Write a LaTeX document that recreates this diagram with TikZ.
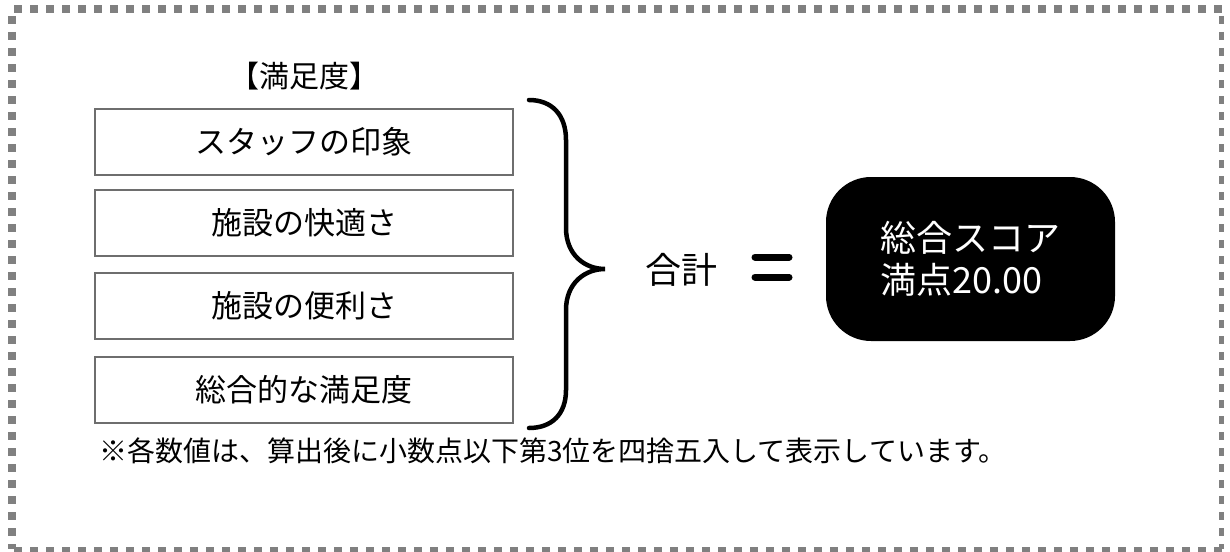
\documentclass[tikz,border=0pt]{standalone}
\usepackage{fontspec}
\setmainfont{Noto Sans CJK JP}
\definecolor{dotgray}{HTML}{808080}
\definecolor{boxgray}{HTML}{6E6E6E}
\tikzset{
  itembox/.style={draw=boxgray, line width=2pt, minimum width=418pt, minimum height=66pt,
    inner sep=0pt, font=\fontsize{31}{36}\selectfont},
  bordline/.style={draw=dotgray, dash pattern=on 8pt off 8pt},
  bracestroke/.style={line width=4.5pt, line cap=round},
  eqbar/.style={line width=7pt, line cap=round},
}
\begin{document}
\begin{tikzpicture}[x=1pt,y=-1pt]
\useasboundingbox (0,0) rectangle (1230,551);
% dotted frame
\draw[bordline, line width=8pt, dash phase=-2pt] (12,9) -- (1222,9);
\draw[bordline, line width=8pt, dash phase=-7pt] (12,9) -- (12,549);
\draw[bordline, line width=5pt, dash phase=-7pt] (1221,9) -- (1221,549);
\draw[bordline, line width=6pt, dash phase=-2pt] (12,550) -- (1222,550);

% title
\node[font=\fontsize{30}{34}\selectfont] (title) at (304,76) {【満足度】};

% item boxes
\node[itembox] (b1) at (304,141.5) {スタッフの印象};
\node[itembox] (b2) at (304,223) {施設の快適さ};
\node[itembox] (b3) at (304,305.5) {施設の便利さ};
\node[itembox] (b4) at (304,390) {総合的な満足度};

% brace
\coordinate (btop) at (529,100);
\coordinate (btip) at (605,269);
\coordinate (bbot) at (529,428);
\draw[bracestroke] (btop) .. controls (552,100) and (566,115) .. (566,140)
  -- (566,228) .. controls (566,255) and (585,269) .. (btip)
  .. controls (585,269) and (566,283) .. (566,310)
  -- (566,390) .. controls (566,414) and (552,428) .. (bbot);

% sum label
\node[font=\fontsize{36}{40}\selectfont] (sum) at (681,270) {合計};

% equals sign
\coordinate (e1a) at (755,257); \coordinate (e1b) at (789,257);
\coordinate (e2a) at (755,277); \coordinate (e2b) at (789,277);
\draw[eqbar] (e1a) -- (e1b);
\draw[eqbar] (e2a) -- (e2b);

% total score
\node[fill=black, rounded corners=45pt, minimum width=289pt, minimum height=164pt,
  text=white, align=left, inner sep=0pt, font=\fontsize{36}{42}\selectfont]
  (score) at (970.5,259) {総合スコア\\満点20.00};

% footnote
\node[anchor=west, inner sep=0pt, font=\fontsize{28}{30}\selectfont] (note) at (99,451)
  {※各数値は、算出後に小数点以下第3位を四捨五入して表示しています。};
\end{tikzpicture}
\end{document}
